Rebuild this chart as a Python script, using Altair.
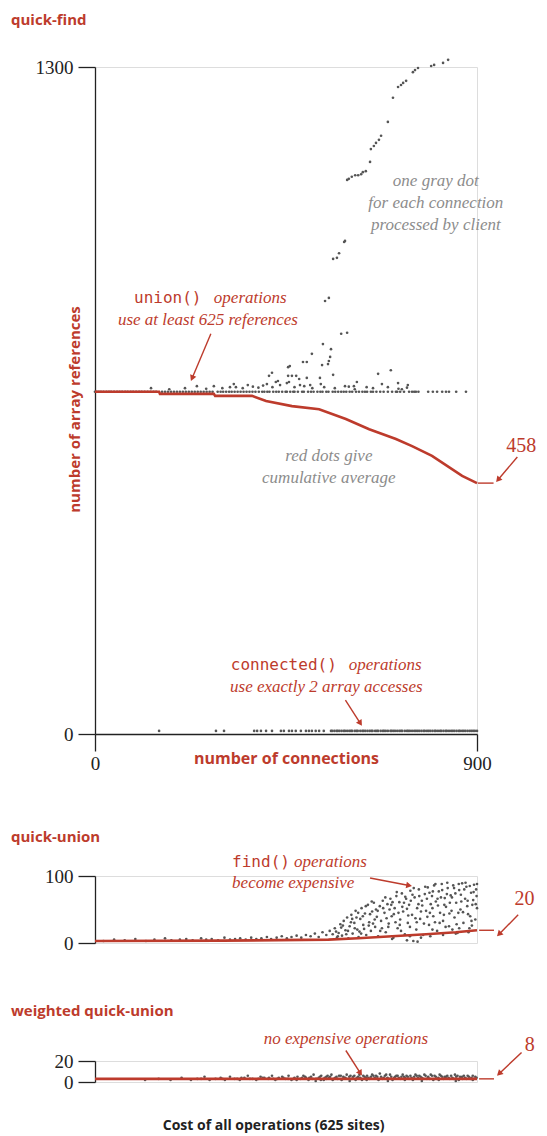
import math
import altair as alt
import pandas as pd

RED = "#bd3b2c"
DOT = "#555555"
GTXT = "#8c8c8c"
INK = "#222222"
SERIF = "Liberation Serif"
SANS = "Open Sans"
MONO = "DejaVu Sans Mono"

W = 382
QF_H, QF_MAX = 667, 1300
QU_H, QU_MAX = 67, 100
WQ_H, WQ_MAX = 21, 20
XMAX = 900

# ---------------- quick-find data ----------------
qf_union_base_x = [0, 4, 9, 14, 20, 27, 33, 38, 45, 52, 58, 64, 71, 77, 84, 90, 97, 104, 110, 117,
                   124, 131, 138, 144, 158, 165, 172, 179, 186, 193, 200, 207, 214, 221, 228, 235,
                   242, 249, 256, 263, 270, 277, 289, 296, 302, 309, 316, 322, 329, 336, 343, 350,
                   357, 364, 371, 378, 386, 394, 399, 406, 411, 420, 427, 433, 441, 449, 452, 460,
                   467, 470, 478, 488, 492, 502, 509, 515, 524, 531, 536, 545, 550, 560, 566, 573,
                   580, 586, 592, 600, 606, 615, 622, 630, 636, 641, 650, 655, 663, 672, 680, 690,
                   700, 709, 719, 728, 740, 752, 762, 785, 796, 806, 818, 827, 834, 851, 874]
qf_union_base_y = 667
qf_bump = [(132, 674), (175, 672), (212, 674), (240, 678), (262, 673), (280, 678), (300, 674),
           (318, 676), (327, 682), (332, 676), (348, 674), (360, 680), (372, 677), (385, 675),
           (396, 679), (418, 676), (436, 680), (470, 676), (493, 678), (512, 674), (540, 676),
           (565, 674), (598, 677), (612, 672), (640, 676), (655, 674), (690, 676), (715, 673),
           (735, 675)]
qf_high = [(832, 1314), (820, 1308), (799, 1304), (792, 1302), (761, 1298), (754, 1294), (749, 1290),
           (733, 1273), (726, 1269), (721, 1265), (714, 1261), (702, 1240), (690, 1193), (674, 1166),
           (669, 1158), (662, 1152), (657, 1146), (650, 1140), (648, 1115), (638, 1097), (631, 1095),
           (627, 1091), (620, 1089), (613, 1089), (605, 1086), (598, 1082), (594, 1080), (589, 961),
           (587, 959), (575, 937), (570, 928), (561, 926), (551, 850), (542, 844), (594, 782),
           (580, 780), (537, 760), (556, 750), (511, 741), (554, 735), (499, 725), (490, 725),
           (551, 727), (535, 719), (549, 721), (459, 717), (455, 715), (417, 704), (410, 698),
           (697, 709), (667, 702), (561, 700), (530, 694), (474, 698), (464, 698), (455, 698),
           (499, 694), (481, 692), (431, 688), (426, 686), (457, 686), (452, 684), (714, 684),
           (737, 680), (617, 686), (610, 678), (676, 682), (589, 678), (532, 682), (507, 680),
           (483, 680), (405, 682), (723, 672), (712, 667), (747, 667), (756, 667)]
qf_conn_x = [151, 285, 304, 375, 382, 391, 403, 417, 438, 445, 457, 464, 473, 485, 497, 504, 511,
             520, 528, 539, 556, 559, 564, 569, 572, 576, 581, 586, 589, 594, 599, 603, 606, 612,
             616, 619, 625, 630, 633, 637, 642, 647, 651, 654, 660, 664, 667, 673, 678, 681, 685,
             690, 696, 699, 703, 707, 712, 717, 721, 724, 730, 735, 738, 742, 747, 752, 756, 760,
             764, 769, 774, 777, 782, 786, 790, 795, 800, 803, 808, 813, 816, 821, 826, 829, 834,
             839, 843, 847, 852, 857, 860, 865, 869, 873, 878, 883, 887, 891, 895, 900]
qf_conn_y = 6
qf_avg_x = [0, 151, 153, 280, 283, 370, 403, 464, 528, 591, 646, 709, 747, 794, 865, 900]
qf_avg_y = [667, 667, 663, 663, 659, 659, 649, 639, 633, 614, 594, 575, 561, 542, 503, 489]

# ---------------- quick-union data ----------------
qu_points = [(20, 3), (45, 5), (70, 4), (95, 6), (120, 3), (140, 5), (165, 7), (180, 4), (200, 5),
             (215, 6), (230, 4), (250, 7), (262, 5), (275, 6), (290, 4), (305, 8), (318, 5),
             (330, 6), (342, 7), (355, 5), (368, 8), (380, 6), (392, 7), (405, 9), (415, 6),
             (428, 8), (440, 10), (452, 7), (463, 9), (475, 11), (486, 8), (497, 12), (508, 10),
             (518, 14), (527, 9), (536, 16), (545, 12), (553, 18), (560, 13),
             (565, 22), (570, 8), (574, 15), (578, 28), (582, 11), (586, 33), (590, 19), (594, 38),
             (597, 7), (600, 25), (604, 42), (607, 14), (611, 30), (614, 48), (618, 20), (621, 9),
             (625, 36), (628, 52), (632, 27), (636, 44), (639, 12), (643, 57), (646, 31), (650, 18),
             (653, 47), (657, 60), (660, 24), (664, 39), (667, 10), (671, 55), (674, 33), (678, 63),
             (682, 45), (685, 16), (689, 58), (692, 29), (696, 66), (699, 40), (703, 8), (706, 52),
             (710, 70), (713, 22), (717, 61), (719, 35), (723, 74), (726, 47), (730, 13), (733, 66),
             (737, 30), (740, 57), (743, 78), (747, 42), (750, 3), (753, 68), (757, 20), (759, 52),
             (763, 80), (766, 36), (770, 63), (773, 12), (777, 73), (780, 48), (784, 83), (787, 27),
             (791, 58), (794, 70), (797, 40), (799, 86), (803, 62), (806, 18), (810, 77), (813, 45),
             (817, 88), (820, 33), (824, 67), (827, 54), (831, 82), (834, 25), (838, 71), (840, 48),
             (844, 86), (847, 38), (851, 60), (854, 15), (858, 79), (861, 50), (865, 89), (868, 30),
             (872, 66), (875, 84), (879, 43), (882, 22), (886, 75), (889, 57), (893, 87), (896, 35),
             (899, 70), (900, 52),
             (568, 17), (580, 23), (592, 13), (603, 31), (616, 38), (623, 17), (634, 21), (648, 43),
             (655, 29), (662, 50), (676, 22), (687, 37), (694, 50), (701, 61), (708, 31), (715, 45),
             (721, 18), (728, 60), (735, 51), (742, 24), (748, 72), (755, 37), (762, 58), (768, 47),
             (775, 29), (782, 66), (789, 45), (796, 77), (801, 31), (808, 56), (815, 68), (822, 42),
             (829, 73), (836, 60), (842, 20), (849, 74), (856, 45), (863, 62), (870, 80), (877, 55),
             (884, 40), (891, 64), (898, 80),
             (700, 6), (735, 4), (760, 2), (790, 10), (820, 12), (850, 14), (880, 16),
             (572, 10), (584, 26), (596, 18), (606, 36), (612, 22), (620, 45), (627, 14), (631, 40),
             (638, 55), (645, 26), (652, 62), (659, 35), (666, 48), (672, 18), (679, 52), (684, 68),
             (691, 24), (698, 57), (704, 43), (711, 76), (718, 27), (724, 54), (731, 69), (738, 41),
             (744, 63), (751, 82), (758, 31), (764, 70), (771, 56), (778, 84), (783, 39), (788, 75),
             (795, 52), (802, 88), (807, 66), (812, 30), (818, 79), (823, 57), (830, 90), (835, 44),
             (841, 68), (846, 82), (852, 28), (857, 88), (862, 72), (867, 46), (873, 90), (878, 63),
             (883, 85), (887, 33), (892, 76), (897, 58), (900, 88),
             (742, 10), (768, 8), (795, 20), (826, 24), (858, 22), (888, 26)]
qu_avg_x = [0, 300, 550, 620, 700, 780, 850, 900]
qu_avg_y = [3, 3.5, 5, 7, 10, 13, 16, 19]

# ---------------- weighted quick-union data ----------------
wq_points = [(118, 2), (150, 3), (178, 2), (204, 4), (226, 2), (241, 3), (258, 5), (270, 2), (284, 3),
             (296, 4), (306, 2), (318, 5), (329, 3), (341, 2), (352, 4), (360, 6), (371, 3), (380, 2),
             (390, 5), (399, 4), (408, 3), (417, 6), (425, 2), (433, 4), (441, 5), (449, 3), (456, 6),
             (463, 2), (470, 4), (477, 5), (484, 3), (491, 6), (497, 4), (503, 2), (509, 5), (515, 7),
             (521, 3), (527, 4), (533, 6), (539, 2), (545, 5), (551, 4), (557, 7), (563, 3), (569, 5),
             (575, 6), (581, 2), (587, 4), (593, 7), (599, 5), (605, 3), (611, 6), (617, 4), (623, 7),
             (629, 2), (635, 5), (641, 6), (647, 3), (653, 7), (659, 4), (665, 5), (671, 8), (677, 3),
             (683, 6), (689, 4), (695, 7), (701, 2), (707, 5), (713, 6), (719, 3), (725, 7), (731, 4),
             (737, 5), (743, 6), (749, 2), (755, 7), (761, 4), (767, 5), (773, 3), (779, 6), (785, 4),
             (791, 7), (797, 2), (803, 5), (809, 4), (815, 6), (821, 3), (827, 5), (833, 4), (839, 6),
             (845, 3), (851, 5), (857, 2), (863, 4), (869, 6), (875, 3), (881, 5), (887, 4), (893, 3),
             (899, 4), (520, 1), (560, 2), (600, 1), (640, 2), (690, 1), (730, 2), (770, 1), (810, 2),
             (850, 1), (890, 2), (545, 3), (585, 5), (625, 4), (665, 3), (705, 4), (745, 3), (785, 5),
             (825, 4), (865, 5),
             (505, 4), (512, 3), (530, 5), (548, 6), (566, 4), (584, 3), (602, 6), (620, 5), (638, 4),
             (656, 6), (674, 5), (692, 3), (710, 6), (728, 5), (746, 4), (764, 6), (782, 3), (800, 6),
             (818, 5), (836, 3), (854, 6), (872, 4), (890, 6), (455, 3), (475, 2), (495, 5), (430, 3),
             (410, 4), (385, 3), (345, 4), (300, 3), (250, 3),
             (532, 2), (541, 4), (554, 5), (571, 3), (579, 6), (590, 4), (608, 5), (614, 2), (632, 6),
             (644, 4), (650, 5), (662, 6), (668, 2), (680, 4), (686, 7), (698, 5), (716, 4), (722, 5),
             (734, 6), (740, 3), (752, 5), (758, 6), (770, 4), (776, 7), (788, 3), (794, 6), (806, 3),
             (812, 7), (824, 5), (830, 6), (842, 4), (848, 7), (860, 5), (866, 3), (878, 6), (884, 3),
             (896, 5), (488, 4), (468, 3), (444, 4), (420, 3), (395, 4), (365, 3), (335, 3)]
wq_avg_x = [0, 900]
wq_avg_y = [3, 3]

# ---------------- annotations (data coordinates) ----------------
qf_gray_notes = [("one gray dot", 803, 1078), ("for each connection", 803, 1035),
                 ("processed by client", 803, 992), ("red dots give", 551, 542),
                 ("cumulative average", 551, 499)]
qf_mono_notes = [("union()", 92, 850), ("connected()", 320, 134)]
qf_ital_left = [("operations", 280, 850), ("operations", 598, 134)]
qf_ital_center = [("use at least 625 references", 266, 807), ("use exactly 2  array accesses", 545, 92)]
qf_value = [("458", 1004, 561)]
qf_arrows = [(273, 780, 226, 688), (590, 66, 629, 16), (995, 540, 945, 491)]
qf_dash = [(902, 489, 939, 489)]

qu_mono_notes = [("find()", 323, 121)]
qu_ital_left = [("operations", 469, 121), ("become expensive", 323, 89)]
qu_value = [("20", 1012, 66)]
qu_arrows = [(648, 97, 747, 85), (997, 42, 947, 10)]
qu_dash = [(905, 19, 940, 19)]

wq_ital_center = [("no expensive operations", 591, 41)]
wq_value = [("8", 1024, 35)]
wq_arrows = [(591, 30, 629, 6), (1005, 28, 947, 6)]
wq_dash = [(905, 3, 940, 3)]


def pts(pairs):
    return pd.DataFrame(pairs, columns=["x", "y"])


def notes(rows):
    return pd.DataFrame(rows, columns=["t", "x", "y"])


def panel(H, YMAX, yaxis, xaxis, dot_frames, avg_x, avg_y, mono, ital_left, ital_center,
          gray, value, arrows, dash, title):
    xs = alt.Scale(domain=[0, XMAX], nice=False, zero=True)
    ys = alt.Scale(domain=[0, YMAX], nice=False, zero=True)
    X = alt.X("x:Q", scale=xs, axis=xaxis)
    Y = alt.Y("y:Q", scale=ys, axis=yaxis)
    layers = []
    for df in dot_frames:
        layers.append(alt.Chart(df).mark_circle(size=7, color=DOT, opacity=1).encode(x=X, y=Y))
    avg = pd.DataFrame({"x": avg_x, "y": avg_y})
    layers.append(alt.Chart(avg).mark_line(color=RED, strokeWidth=2.6).encode(x=X, y=Y))

    def text_layer(rows, font, size, color, style, weight, align):
        if not rows:
            return None
        return alt.Chart(notes(rows)).mark_text(
            font=font, fontSize=size, color=color, fontStyle=style, fontWeight=weight,
            align=align, baseline="middle").encode(x=X, y=Y, text="t:N")

    for rows, font, size, color, style, weight, align in [
        (mono, MONO, 16, RED, "normal", "normal", "left"),
        (ital_left, SERIF, 17, RED, "italic", "normal", "left"),
        (ital_center, SERIF, 17, RED, "italic", "normal", "center"),
        (gray, SERIF, 17, GTXT, "italic", "normal", "center"),
        (value, SERIF, 20, RED, "normal", "normal", "center"),
    ]:
        tl = text_layer(rows, font, size, color, style, weight, align)
        if tl is not None:
            layers.append(tl)

    # arrows: shaft + head, head direction computed from the pixel scale
    kx = W / XMAX
    ky = H / YMAX
    shafts, heads = [], []
    for (x1, y1, x2, y2) in arrows:
        dxp = (x2 - x1) * kx
        dyp = -(y2 - y1) * ky
        L = math.hypot(dxp, dyp)
        ux, uy = dxp / L, dyp / L
        back = 3.0
        hx = x2 - ux * back / kx
        hy = y2 + uy * back / ky
        ang = math.degrees(math.atan2(dxp, -dyp)) % 360
        shafts.append({"x": x1, "y": y1, "x2": hx, "y2": hy})
        heads.append({"x": hx, "y": hy, "a": ang})
    for (x1, y1, x2, y2) in dash:
        shafts.append({"x": x1, "y": y1, "x2": x2, "y2": y2})
    layers.append(alt.Chart(pd.DataFrame(shafts)).mark_rule(color=RED, strokeWidth=1.4).encode(
        x=X, y=Y, x2="x2:Q", y2="y2:Q"))
    layers.append(alt.Chart(pd.DataFrame(heads)).mark_point(
        shape="triangle-up", filled=True, color=RED, size=45, opacity=1).encode(
        x=X, y=Y, angle=alt.Angle("a:Q", scale=None)))

    return alt.layer(*layers).properties(width=W, height=H, title=title)


def ptitle(text, offset):
    return alt.TitleParams(text, anchor="start", frame="group", dx=-84, offset=offset,
                           color=RED, font=SANS, fontSize=15, fontWeight="bold")


axis_common = dict(domainColor=INK, domainWidth=1.3, tickColor=INK, tickWidth=1.3, tickSize=17,
                   labelFont=SERIF, labelFontSize=19, labelColor=INK, labelPadding=5, grid=False,
                   labelOverlap=False, labelFlush=False, format="d")

qf_yaxis = alt.Axis(values=[0, 1300], title="number of array references", titleColor=RED,
                    titleFont=SANS, titleFontSize=15, titleFontWeight="bold", titleX=-21,
                    titleY=342, titleAngle=-90, titleBaseline="middle", titleAlign="center",
                    **axis_common)
qf_xaxis = alt.Axis(values=[0, 900], title="number of connections", titleColor=RED,
                    titleFont=SANS, titleFontSize=16, titleFontWeight="bold", titleY=24,
                    titleBaseline="middle", labelPadding=3,
                    **{k: v for k, v in axis_common.items() if k != "labelPadding"})
qu_yaxis = alt.Axis(values=[0, 100], title=None, **axis_common)
wq_yaxis = alt.Axis(values=[0, 20], title=None, **axis_common)

qf_frames = [
    pd.DataFrame({"x": qf_union_base_x, "y": [qf_union_base_y] * len(qf_union_base_x)}),
    pts(qf_bump), pts(qf_high),
    pd.DataFrame({"x": qf_conn_x, "y": [qf_conn_y] * len(qf_conn_x)}),
]

qf = panel(QF_H, QF_MAX, qf_yaxis, qf_xaxis, qf_frames, qf_avg_x, qf_avg_y, qf_mono_notes,
           qf_ital_left, qf_ital_center, qf_gray_notes, qf_value, qf_arrows, qf_dash,
           ptitle("quick-find", 30))
qu = panel(QU_H, QU_MAX, qu_yaxis, None, [pts(qu_points)], qu_avg_x, qu_avg_y, qu_mono_notes,
           qu_ital_left, [], [], qu_value, qu_arrows, qu_dash, ptitle("quick-union", 8))
wq = panel(WQ_H, WQ_MAX, wq_yaxis, None, [pts(wq_points)], wq_avg_x, wq_avg_y, [], [],
           wq_ital_center, [], wq_value, wq_arrows, wq_dash, ptitle("weighted quick-union", 11))

caption = alt.TitleParams("Cost of all operations (625 sites)", orient="bottom", anchor="middle",
                          font=SANS, fontSize=14, fontWeight="bold", color=INK, offset=26)

lower = alt.vconcat(qu, wq, spacing=49)
chart = alt.vconcat(qf, lower, spacing=55, title=caption).properties(
    padding={"left": 2, "top": 4, "right": 0, "bottom": 0}
).configure_view(strokeWidth=0).configure(background="white")

chart.save("out.html", embed_options={"renderer": "svg", "actions": False})
